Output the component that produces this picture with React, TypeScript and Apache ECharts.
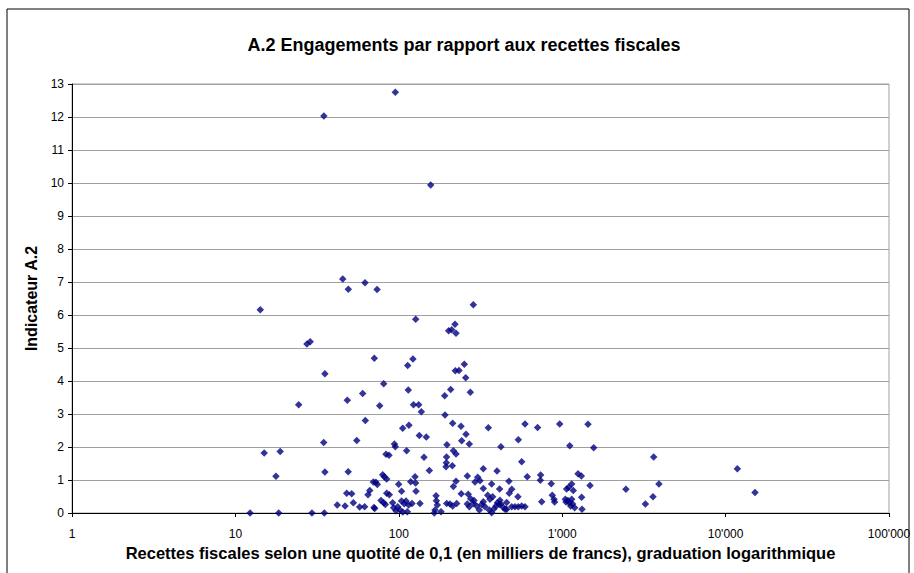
import React, { useEffect, useRef } from "react";
import * as echarts from "echarts";

const titleText = "A.2 Engagements par rapport aux recettes fiscales";
const xAxisTitle = "Recettes fiscales selon une quotité de 0,1 (en milliers de francs), graduation logarithmique";
const yAxisTitle = "Indicateur A.2";

// Recettes fiscales (milliers de francs)
const recettes: number[] = [
  34.8, 95.2, 156.7, 45.4, 49.1, 62.1, 73.6, 285.7, 14.2, 27.4, 28.7, 35.3, 24.4, 34.7, 15.0, 18.8, 17.7, 35.3,
  12.3, 18.4, 29.4, 35.0, 42, 46.9, 48, 48.4, 49, 126.9, 201.9, 70.8, 122, 113.3, 80.8, 60.1, 114.3, 76.4, 123,
  132.4, 137.4, 190.9, 207.8, 62.4, 105.6, 115.4, 133.5, 147.3, 191.7, 55.3, 94, 95.2, 197, 111.7, 83.5, 87.1,
  142.6, 196, 195.4, 194.5, 153.7, 79.7, 81.5, 84.3, 69.8, 72.4, 73.9, 99.8, 118.2, 126.8, 125.7, 66.4, 64.8,
  104, 127.4, 51.5, 84.3, 87.5, 77.8, 80.8, 82.7, 52.7, 57.6, 61.8, 71.2, 70.5, 91.7, 93, 96.1, 98.5, 104, 108,
  110.7, 115, 120.4, 101.7, 105.7, 112.7, 134.8, 169, 169.8, 172, 166.6, 181.3, 164.8, 196.3,
  220.8, 210.8, 223.9, 251.8, 221.8, 233.5, 256.6, 273.9, 213.6, 240.2, 257.8, 242.5, 270, 353, 421.8, 591.8,
  707, 538.6, 215.7, 224, 212.5, 329, 565, 399, 262.6, 304, 314, 292.7, 611, 738, 734.6, 224, 215.7, 370, 472,
  329, 414, 491, 474, 241, 266, 275.4, 288.5, 350, 361.5, 375.6, 416, 401, 420.5, 457, 536, 205.8, 213.6, 226,
  262.5, 270.2, 285.7, 299.6, 311, 321.5, 337, 329, 358, 370, 382.5, 393.5, 412, 436, 446.7, 457, 491, 514,
  538.5, 565, 592, 749,
  965, 1438, 1112, 1559, 3630, 1250, 1309, 857, 1143, 1096, 1064, 1169, 1479, 2455, 3910, 869, 891, 1315, 3594,
  899, 1045, 1084, 1055, 1105, 1143, 1158, 1127, 1192, 1322, 3228, 11800, 15130,
];

// Indicateur A.2
const indicateur: number[] = [
  12.03, 12.75, 9.94, 7.09, 6.78, 6.98, 6.77, 6.31, 6.16, 5.12, 5.19, 4.22, 3.28, 2.14, 1.82, 1.86, 1.11, 1.24,
  0, 0, 0, 0, 0.24, 0.21, 0.6, 3.42, 1.25, 5.87, 5.52, 4.69, 4.67, 4.47, 3.92, 3.62, 3.73, 3.25, 3.28,
  3.28, 3.07, 3.55, 3.74, 2.8, 2.57, 2.66, 2.35, 2.3, 2.97, 2.2, 2.09, 2.01, 2.07, 1.89, 1.78, 1.75,
  1.69, 1.7, 1.52, 1.4, 1.29, 1.16, 1.1, 1.03, 0.94, 0.93, 0.86, 0.87, 0.95, 0.91, 1.1, 0.68, 0.55,
  0.66, 0.66, 0.58, 0.6, 0.55, 0.38, 0.31, 0.26, 0.31, 0.18, 0.19, 0.14, 0.17, 0.31, 0.16, 0.07, 0.19, 0.36, 0.28,
  0.36, 0.24, 0.29, 0.09, 0.03, 0.04, 0.29, 0.52, 0.37, 0.24, 0.09, 0.04, 0, 0.29,
  5.72, 5.55, 5.45, 4.51, 4.31, 4.32, 4.1, 3.66, 2.72, 2.63, 2.39, 2.19, 2.09, 2.58, 2.01, 2.7,
  2.59, 2.22, 1.89, 1.79, 1.43, 1.34, 1.55, 1.27, 1.12, 1.08, 0.98, 0.94, 1.1, 1.15, 0.99, 0.96, 0.8, 0.88, 0.96,
  0.74, 0.73, 0.72, 0.6, 0.58, 0.57, 0.43, 0.38, 0.54, 0.42, 0.49, 0.39, 0.31, 0.27, 0.32, 0.49, 0.27, 0.21, 0.29,
  0.27, 0.19, 0.29, 0.21, 0.09, 0.26, 0.19, 0.34, 0.09, 0.01, 0.13, 0.21, 0.26, 0.17, 0.11, 0.11, 0.19, 0.19,
  0.19, 0.21, 0.19, 0.34,
  2.7, 2.69, 2.04, 1.98, 1.7, 1.19, 1.12, 0.89, 0.88, 0.78, 0.73, 0.68, 0.83, 0.72, 0.88, 0.54, 0.42, 0.48, 0.49,
  0.33, 0.42, 0.38, 0.33, 0.31, 0.42, 0.27, 0.21, 0.16, 0.11, 0.27, 1.34, 0.62,
];

const xTickLabels: Record<number, string> = { 1: "1", 10: "10", 100: "100", 1000: "1'000", 10000: "10'000", 100000: "100'000" };

export default function App() {
  const ref = useRef<HTMLDivElement>(null);
  useEffect(() => {
    if (!ref.current) return;
    const chart = echarts.init(ref.current, null, { renderer: "svg" });
    const data = recettes.map((x, i) => [x, indicateur[i]]);
    const font = "'Liberation Sans', Arial, sans-serif";
    chart.setOption({
      animation: false,
      backgroundColor: "#ffffff",
      textStyle: { fontFamily: font },
      title: {
        text: titleText,
        left: 459,
        textAlign: "center",
        top: 31,
        textStyle: { fontFamily: font, fontSize: 18, fontWeight: "bold", color: "#000" },
      },
      graphic: [
        {
          type: "rect",
          shape: { x: 7, y: 9, width: 902, height: 580 },
          style: { fill: "none", stroke: "#000", lineWidth: 1 },
          silent: true,
          z: 100,
        },
      ],
      grid: {
        left: 72,
        right: 25,
        top: 84,
        bottom: 60,
        show: true,
        borderColor: "#a0a0a0",
        borderWidth: 1,
        backgroundColor: "transparent",
      },
      xAxis: {
        type: "log",
        logBase: 10,
        min: 1,
        max: 100000,
        name: xAxisTitle,
        nameLocation: "middle",
        nameGap: 29,
        nameTextStyle: { fontFamily: font, fontSize: 16.5, fontWeight: "bold", color: "#000" },
        axisLine: { show: true, lineStyle: { color: "#000", width: 1 } },
        axisTick: { show: true, length: 4, lineStyle: { color: "#000" } },
        axisLabel: {
          fontFamily: font,
          fontSize: 12,
          color: "#000",
          margin: 15,
          formatter: (v: number) => xTickLabels[Math.round(v)] ?? String(v),
        },
        splitLine: { show: false },
        minorTick: { show: false },
      },
      yAxis: {
        type: "value",
        min: 0,
        max: 13,
        interval: 1,
        name: yAxisTitle,
        nameLocation: "middle",
        nameGap: 33,
        nameRotate: 90,
        nameTextStyle: { fontFamily: font, fontSize: 16, fontWeight: "bold", color: "#000" },
        axisLine: { show: true, lineStyle: { color: "#000", width: 1 } },
        axisTick: { show: true, length: 4, lineStyle: { color: "#000" } },
        axisLabel: { fontFamily: font, fontSize: 12, color: "#000", margin: 8 },
        splitLine: { show: true, lineStyle: { color: "#a0a0a0", width: 1 } },
      },
      series: [
        {
          type: "scatter",
          data,
          symbol: "diamond",
          symbolSize: 7.5,
          itemStyle: { color: "#000080" },
          clip: false,
        },
      ],
    });
    return () => chart.dispose();
  }, []);
  return (
    <div
      ref={ref}
      style={{ position: "fixed", left: 0, top: 0, width: 914, height: 573, background: "#fff" }}
    />
  );
}
